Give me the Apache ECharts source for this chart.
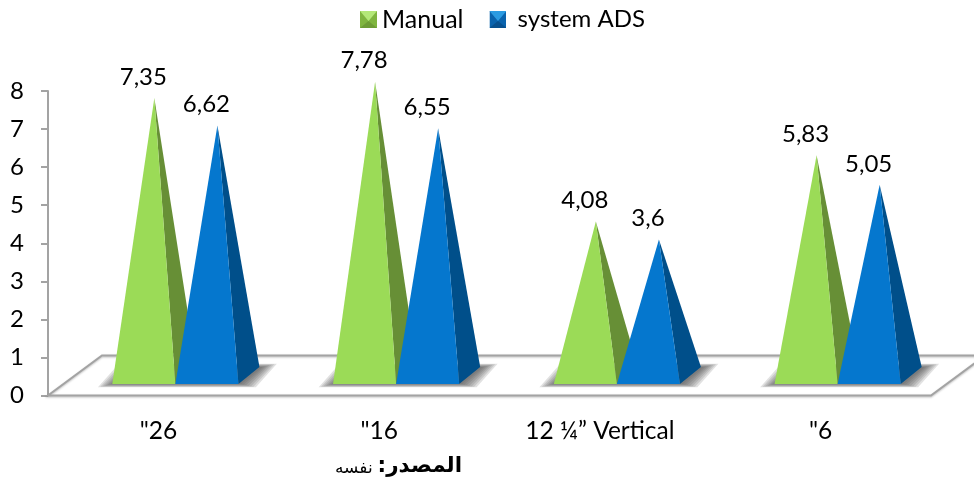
<!DOCTYPE html>
<html>
<head>
<meta charset="utf-8">
<style>html,body{margin:0;padding:0;background:#fff}#chart{width:974px;height:484px}</style>
<script src="https://cdn.jsdelivr.net/npm/echarts@6/dist/echarts.min.js"></script>
</head>
<body>
<div id="chart"></div>
<script>
// Drilling time by hole section, per method
const categories = ['"26', '"16', '12 ¼” Vertical', '"6'];
const manualValues = [7.35, 7.78, 4.08, 5.83];
const adsValues = [6.62, 6.55, 3.6, 5.05];
const seriesNames = ['Manual', ' system ADS'];
const sourceLabel = 'المصدر:\u200f';
const sourceText = 'نفسه';

const FONT = 'Lato, "Open Sans", sans-serif';
const DEPTH_X = 21, DEPTH_Y = 17;      // oblique offset of a pyramid's base
const FLOOR_DX = 54, FLOOR_DY = 40;    // oblique offset of the floor plane
const FRONT_LIFT = 11.5;               // front edge of the base above the axis line
const SHADOW_STEPS = 7;                // layers used for the soft edge of a floor shadow
const PALETTE = [
  { front: '#9bdb57', side: '#678f36' },
  { front: '#0577ce', side: '#004f8a' }
];

function icon(top, mid, bottom) {
  const svg = "<svg xmlns='http://www.w3.org/2000/svg' width='17' height='17'>" +
    "<rect width='17' height='17' fill='" + mid + "'/>" +
    "<path d='M0 0H17L8.5 10Z' fill='" + top + "'/>" +
    "<path d='M0 17H17L8.5 10Z' fill='" + bottom + "'/></svg>";
  return 'image://data:image/svg+xml;charset=utf-8,' + encodeURIComponent(svg);
}

// Floor plane and the soft contact shadows, drawn beneath the pyramids
function renderFloor(params, api) {
  const cs = params.coordSys;
  const x0 = cs.x, x1 = cs.x + cs.width, y0 = cs.y + cs.height;
  const children = [];
  if (params.dataIndex === 0) {
    const line = { stroke: '#a3a3a3', lineWidth: 2, fill: null,
      shadowColor: 'rgba(0,0,0,0.25)', shadowBlur: 2, shadowOffsetY: 1 };
    children.push({
      type: 'polygon',
      shape: { points: [[x0, y0], [x1, y0], [x1 + FLOOR_DX, y0 - FLOOR_DY], [x0 + FLOOR_DX, y0 - FLOOR_DY]] },
      style: line
    });
  }
  const band = api.size([1, 0])[0];
  const w = band * 0.2857;
  const c = api.coord([api.value(0), 0]);
  const cx = c[0] + band * 0.077;
  const yf = y0 - FRONT_LIFT;
  // Concentric layers build up towards the pyramid base and fade outward
  for (let k = SHADOW_STEPS - 1; k >= 0; k--) {
    const gx = k * 2.4, gy = k * 0.55;
    children.push({
      type: 'polygon',
      shape: { points: [
        [cx - w - gx, yf + gy],
        [cx + w + 3 + gx, yf + gy],
        [cx + w + DEPTH_X + 3 + gx, yf - DEPTH_Y - gy],
        [cx - w + DEPTH_X - gx, yf - DEPTH_Y - gy]
      ] },
      style: { fill: 'rgba(80,80,80,0.17)' }
    });
  }
  return { type: 'group', children };
}

function renderPyramid(seriesIndex) {
  return function (params, api) {
    const band = api.size([1, 0])[0];
    const w = band * 0.2857;
    const base = api.coord([api.value(0), 0]);
    const top = api.coord([api.value(0), api.value(1)]);
    const cx = base[0] + band * 0.077;
    const xl = seriesIndex === 0 ? cx - w : cx;
    const xr = xl + w;
    const yf = base[1] - FRONT_LIFT;
    const apex = [xl + w / 2 + DEPTH_X / 2, yf - DEPTH_Y / 2 - (base[1] - top[1]) * 0.992];
    const colors = PALETTE[seriesIndex];
    return {
      type: 'group',
      children: [
        { type: 'polygon', shape: { points: [[xr, yf], [xr + DEPTH_X, yf - DEPTH_Y], apex] }, style: { fill: colors.side } },
        { type: 'polygon', shape: { points: [[xl, yf], [xr, yf], apex] }, style: { fill: colors.front } },
        { type: 'text', x: apex[0] - 11, y: apex[1] - 21,
          style: { text: String(api.value(1)).replace('.', ','), font: '24px ' + FONT, fill: '#000',
                   align: 'center', verticalAlign: 'middle' } }
      ]
    };
  };
}

const chart = echarts.init(document.getElementById('chart'), null, { renderer: 'canvas' });
chart.setOption({
  animation: false,
  backgroundColor: '#fff',
  grid: { left: 48, top: 91, width: 883, height: 304.5, containLabel: false },
  legend: {
    data: [
      { name: seriesNames[0], icon: icon('#b4e878', '#7fb53f', '#6d9c35') },
      { name: seriesNames[1], icon: icon('#2b9be2', '#0a63ad', '#08508e'), textStyle: { fontSize: 24 } }
    ],
    left: 360, top: 7, padding: 0, itemWidth: 17, itemHeight: 17, itemGap: 26,
    textStyle: { fontFamily: FONT, fontSize: 25, color: '#000' }
  },
  xAxis: {
    type: 'category', data: categories, boundaryGap: true,
    axisLine: { show: false }, axisTick: { show: false },
    axisLabel: { fontFamily: FONT, fontSize: 24.5, color: '#000', margin: 23, interval: 0 }
  },
  yAxis: {
    type: 'value', min: 0, max: 8, interval: 1,
    splitLine: { show: false },
    axisLine: { show: true, lineStyle: { color: '#a3a3a3', width: 2 } },
    axisTick: { show: true, length: 7, lineStyle: { color: '#a3a3a3', width: 2 } },
    axisLabel: { fontFamily: FONT, fontSize: 24, color: '#000', margin: 24, padding: [4, 0, 0, 0] }
  },
  graphic: [
    { type: 'text', right: 974 - 462, top: 455, style: { text: sourceLabel, font: 'bold 21.5px "DejaVu Sans"', fill: '#000' } },
    { type: 'text', left: 335, top: 460, style: { text: sourceText, font: '17px "DejaVu Sans"', fill: '#000' } }
  ],
  series: [
    { type: 'custom', name: 'floor', renderItem: renderFloor, clip: false, silent: true, z: 1,
      encode: { x: 0, y: 1 }, data: categories.map((c, i) => [i, 0]) },
    { type: 'custom', name: seriesNames[0], renderItem: renderPyramid(0), clip: false, z: 2,
      itemStyle: { color: PALETTE[0].front },
      encode: { x: 0, y: 1 }, data: manualValues.map((v, i) => [i, v]) },
    { type: 'custom', name: seriesNames[1], renderItem: renderPyramid(1), clip: false, z: 3,
      itemStyle: { color: PALETTE[1].front },
      encode: { x: 0, y: 1 }, data: adsValues.map((v, i) => [i, v]) }
  ]
});
</script>
</body>
</html>
